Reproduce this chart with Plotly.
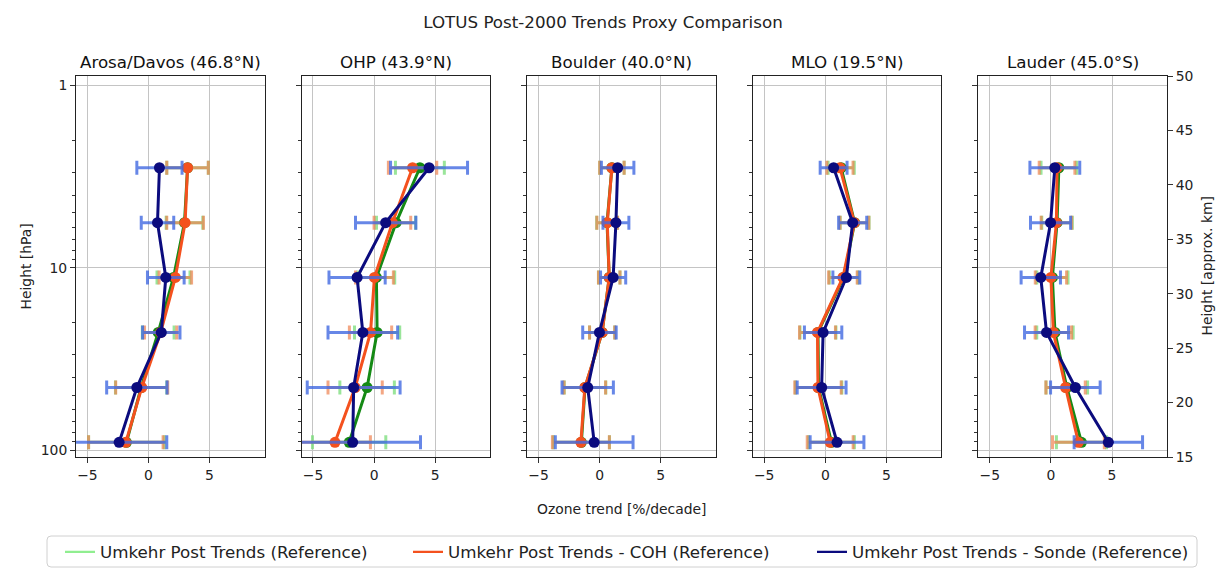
import plotly.graph_objects as go
from plotly.subplots import make_subplots

# ── Data ────────────────────────────────────────────────────────────
stations = [
    "Arosa/Davos (46.8°N)",
    "OHP (43.9°N)",
    "Boulder (40.0°N)",
    "MLO (19.5°N)",
    "Lauder (45.0°S)",
]

# Umkehr layer mid-pressures [hPa], top to bottom
pressure_hpa = [2.83, 5.66, 11.3, 22.6, 45.3, 90.5]

# trends [%/decade] per station, one value per layer
ref_trend = [
    [3.2, 2.95, 2.05, 0.8, -0.6, -1.8],
    [3.75, 1.8, 0.19, 0.25, -0.57, -2.04],
    [1.0, 0.6, 0.78, 0.2, -1.2, -1.5],
    [1.3, 2.4, 1.5, -0.6, -0.55, 0.5],
    [0.65, 0.5, 0.12, 0.33, 1.3, 2.5],
]
ref_err = [
    [1.7, 1.5, 1.35, 1.3, 2.1, 3.1],
    [2.0, 1.6, 1.5, 1.85, 2.23, 3.0],
    [1.0, 0.85, 0.88, 1.03, 1.7, 2.3],
    [1.07, 1.18, 1.17, 1.47, 1.9, 1.88],
    [1.46, 1.25, 1.28, 1.49, 1.7, 2.05],
]

coh_trend = [
    [3.2, 3.0, 2.2, 1.0, -0.55, -1.85],
    [3.15, 1.5, 0.03, -0.29, -1.55, -3.2],
    [1.0, 0.62, 0.78, 0.2, -1.22, -1.54],
    [1.2, 2.38, 1.44, -0.64, -0.6, 0.4],
    [0.5, 0.45, 0.0, 0.2, 1.2, 2.25],
]
coh_err = [
    [1.7, 1.5, 1.33, 1.32, 2.13, 3.05],
    [1.98, 1.5, 1.55, 1.73, 2.22, 2.9],
    [1.0, 0.85, 0.88, 1.03, 1.7, 2.33],
    [1.07, 1.18, 1.17, 1.47, 1.9, 1.88],
    [1.46, 1.25, 1.28, 1.49, 1.61, 2.12],
]

sonde_trend = [
    [0.9, 0.74, 1.42, 1.05, -0.95, -2.4],
    [4.5, 0.95, -1.39, -0.92, -1.67, -1.75],
    [1.47, 1.33, 1.1, -0.02, -0.98, -0.45],
    [0.68, 2.24, 1.72, -0.18, -0.3, 0.96],
    [0.32, -0.03, -0.83, -0.36, 2.0, 4.7],
]
sonde_err = [
    [1.85, 1.33, 1.5, 1.53, 2.47, 3.9],
    [3.15, 2.47, 2.3, 2.85, 3.8, 5.55],
    [1.33, 1.06, 1.03, 1.37, 2.1, 3.18],
    [1.1, 1.15, 1.1, 1.53, 2.0, 2.2],
    [2.04, 1.64, 1.61, 1.8, 2.03, 2.8],
]

pressure_ticks = [1, 10, 100]
pressure_minor = [2, 3, 4, 5, 6, 7, 8, 9, 20, 30, 40, 50, 60, 70, 80, 90]
km_ticks = [15, 20, 25, 30, 35, 40, 45, 50]
trend_ticks = [-5, 0, 5]

# name, trends, errors, line colour, errorbar colour, legend colour
series = [
    ("Umkehr Post Trends (Reference)", ref_trend, ref_err,
     "#158a15", "rgba(120,220,120,0.75)", "#90ee90"),
    ("Umkehr Post Trends - COH (Reference)", coh_trend, coh_err,
     "#f4511e", "rgba(238,130,80,0.7)", "#f4511e"),
    ("Umkehr Post Trends - Sonde (Reference)", sonde_trend, sonde_err,
     "#0b0b7e", "rgba(65,105,225,0.8)", "#0b0b7e"),
]

FONT = "DejaVu Sans"
TICK = 13.9
BIG = 16.7

# page has an 8px body margin -> figure is a bit smaller than the window
W, H = 1224, 580
PL, PR, PT, PB = 76, 1167, 76, 457          # plot area in screenshot px


def px(x):
    return (x - PL) / (PR - PL)


def py(y):
    return (PB - y) / (PB - PT)


fig = make_subplots(rows=1, cols=5, shared_yaxes=True,
                    horizontal_spacing=0.034, subplot_titles=stations)

# ── Profiles ────────────────────────────────────────────────────────
for i in range(len(stations)):
    for name, trend, err, line_col, err_col, _ in series:
        fig.add_trace(go.Scatter(
            x=trend[i], y=pressure_hpa,
            mode="lines+markers",
            line=dict(color=line_col, width=3),
            marker=dict(color=line_col, size=11),
            error_x=dict(type="data", array=err[i], color=err_col,
                         thickness=3, width=7),
            name=name, showlegend=False, hoverinfo="x+y",
        ), row=1, col=i + 1)

# legend-only handles (plain lines), one legend per entry for spacing
legend_text_x = [100, 448, 852]
for k, (name, _, _, _, _, leg_col) in enumerate(series):
    fig.add_trace(go.Scatter(
        x=[None], y=[None], mode="lines",
        line=dict(color=leg_col, width=2.2),
        name=name, showlegend=True,
        legend="legend" if k == 0 else f"legend{k + 1}",
    ))

# ── Axes ────────────────────────────────────────────────────────────
fig.update_xaxes(
    range=[-5.93, 9.5], tickvals=trend_ticks,
    ticks="outside", ticklen=5, tickcolor="#333",
    showgrid=True, gridcolor="#c4c4c4", gridwidth=1,
    zeroline=False, showline=True, linecolor="#222", linewidth=1,
    mirror=True, tickfont=dict(size=TICK, color="#222"),
)
fig.update_yaxes(
    type="log", range=[2.037, -0.051],
    tickvals=pressure_ticks, ticktext=["1", "10", "100"],
    ticks="outside", ticklen=5, tickcolor="#333",
    minor=dict(tickmode="array", tickvals=pressure_minor,
               ticks="outside", ticklen=3, tickcolor="#333",
               showgrid=False),
    showgrid=True, gridcolor="#c4c4c4", gridwidth=1,
    zeroline=False, showline=True, linecolor="#222", linewidth=1,
    mirror=True, tickfont=dict(size=TICK, color="#222"),
)

# approximate altitude on the right of the last panel
fig.update_layout(yaxis6=dict(
    overlaying="y5", anchor="x5", side="right",
    range=[15, 50], tickvals=km_ticks,
    ticks="outside", ticklen=5, tickcolor="#333",
    showgrid=False, zeroline=False, showline=False,
    tickfont=dict(size=TICK, color="#222"),
))
fig.add_trace(go.Scatter(x=[None], y=[None], xaxis="x5", yaxis="y6",
                         showlegend=False, hoverinfo="skip"))

fig.update_annotations(font=dict(family=FONT, size=BIG, color="#111"), yshift=2)

fig.add_annotation(text="Ozone trend [%/decade]", xref="paper", yref="paper",
                   x=0.5, y=py(509), showarrow=False, yanchor="middle",
                   font=dict(family=FONT, size=TICK, color="#222"))
fig.add_annotation(text="Height [hPa]", xref="paper", yref="paper",
                   x=px(25), y=0.5, textangle=-90, showarrow=False,
                   xanchor="center", yanchor="middle",
                   font=dict(family=FONT, size=TICK, color="#222"))
fig.add_annotation(text="Height [approx. km]", xref="paper", yref="paper",
                   x=px(1206), y=0.5, textangle=-90, showarrow=False,
                   xanchor="center", yanchor="middle",
                   font=dict(family=FONT, size=TICK, color="#222"))

# rounded legend frame
x0, x1, y0, y1 = px(47), px(1197), py(567), py(536)
rx, ry = 4 / (PR - PL), 4 / (PB - PT)
frame = (f"M{x0 + rx},{y1} L{x1 - rx},{y1} Q{x1},{y1} {x1},{y1 - ry} "
         f"L{x1},{y0 + ry} Q{x1},{y0} {x1 - rx},{y0} "
         f"L{x0 + rx},{y0} Q{x0},{y0} {x0},{y0 + ry} "
         f"L{x0},{y1 - ry} Q{x0},{y1} {x0 + rx},{y1} Z")
fig.add_shape(type="path", path=frame, xref="paper", yref="paper",
              line=dict(color="#d0d0d0", width=1), fillcolor="white",
              layer="below")

legend_style = dict(orientation="h", xanchor="left", yanchor="middle",
                    y=py(552), borderwidth=0, bgcolor="rgba(0,0,0,0)",
                    font=dict(family=FONT, size=BIG, color="#222"))

# ── Layout ──────────────────────────────────────────────────────────
fig.update_layout(
    width=W, height=H,
    title=dict(text="LOTUS Post-2000 Trends Proxy Comparison",
               x=(603 - 8) / W, xanchor="center",
               y=1 - (22 - 8) / H, yanchor="middle",
               font=dict(family=FONT, size=BIG, color="#222")),
    font=dict(family=FONT, color="#222"),
    paper_bgcolor="white", plot_bgcolor="white",
    margin=dict(l=PL - 8, r=W - (PR - 8), t=PT - 8, b=H - (PB - 8)),
    showlegend=True,
    legend=dict(x=px(legend_text_x[0] - 40), **legend_style),
    legend2=dict(x=px(legend_text_x[1] - 40), **legend_style),
    legend3=dict(x=px(legend_text_x[2] - 40), **legend_style),
    hovermode="closest",
)

fig.write_html("out.html")
